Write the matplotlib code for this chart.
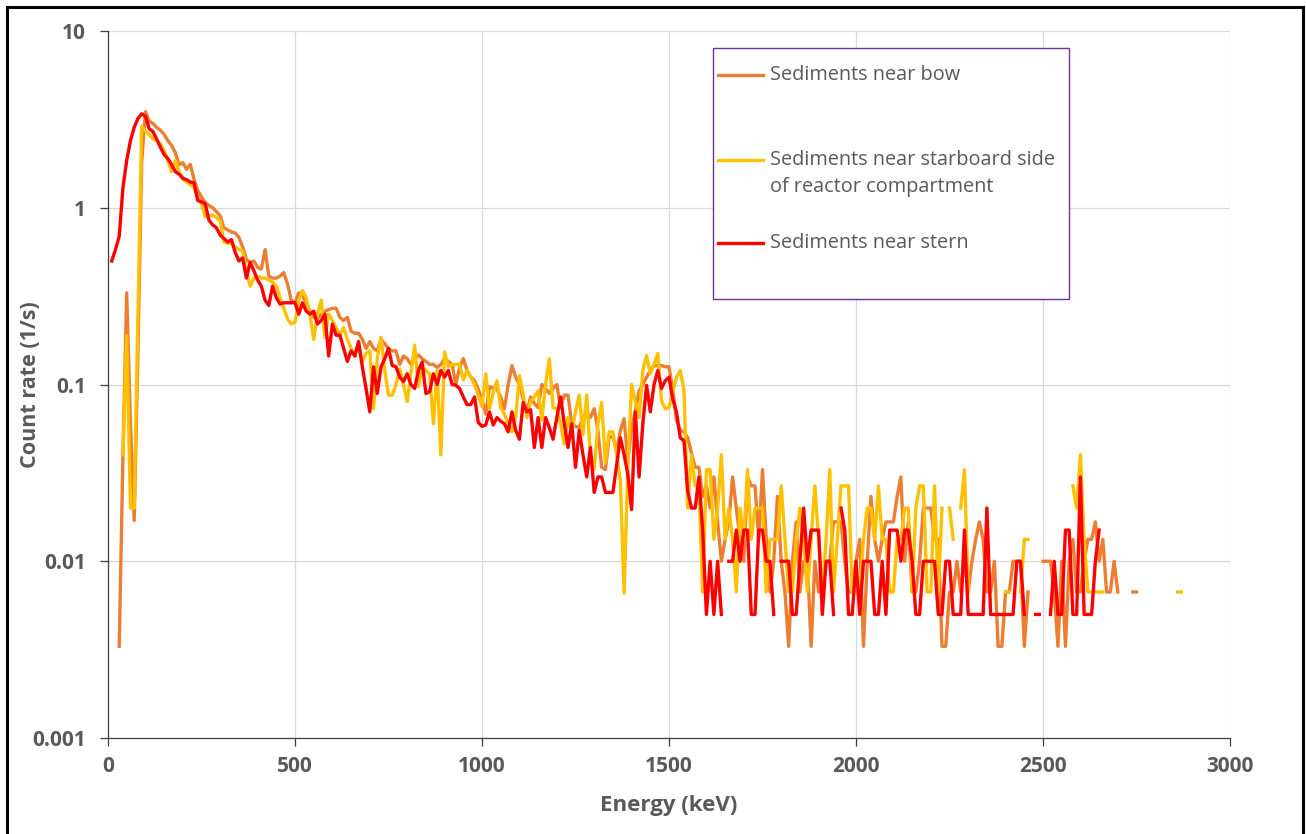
import numpy as np
import matplotlib.pyplot as plt
from matplotlib.patches import Rectangle

plt.rcParams['font.family'] = ['Open Sans', 'DejaVu Sans']

nan = np.nan
bin_width = 10  # keV, first bin at 10 keV

# Count rates (1/s) per 10 keV bin, one row per 100 keV; nan = no counts
stern = [
    0.50, 0.58, 0.69, 1.30, 1.85, 2.4, 2.85, 3.2, 3.4, 3.3,
    2.8, 2.7, 2.45, 2.2, 2.0, 1.9, 1.75, 1.6, 1.55, 1.47,
    1.44, 1.40, 1.38, 1.10, 1.08, 1.05, 0.85, 0.80, 0.77, 0.70,
    0.67, 0.64, 0.66, 0.56, 0.50, 0.52, 0.40, 0.49, 0.44, 0.39,
    0.36, 0.30, 0.28, 0.36, 0.31, 0.285, 0.29, 0.29, 0.29, 0.29,
    0.25, 0.29, 0.26, 0.25, 0.26, 0.22, 0.23, 0.25, 0.145, 0.22,
    0.19, 0.19, 0.16, 0.135, 0.155, 0.145, 0.175, 0.126, 0.095, 0.070,
    0.126, 0.089, 0.126, 0.14, 0.16, 0.128, 0.126, 0.11, 0.104, 0.115,
    0.10, 0.095, 0.12, 0.134, 0.089, 0.091, 0.115, 0.10, 0.12, 0.11,
    0.12, 0.10, 0.099, 0.095, 0.085, 0.077, 0.077, 0.085, 0.061, 0.058,
    0.059, 0.070, 0.059, 0.065, 0.062, 0.060, 0.054, 0.070, 0.055, 0.049,
    0.079, 0.070, 0.072, 0.044, 0.065, 0.044, 0.065, 0.057, 0.049, 0.065,
    0.085, 0.060, 0.044, 0.060, 0.034, 0.055, 0.040, 0.030, 0.044, 0.0245,
    0.030, 0.030, 0.0245, 0.0245, 0.0245, 0.035, 0.050, 0.040, 0.031, 0.0196,
    0.070, 0.030, 0.060, 0.099, 0.070, 0.10, 0.12, 0.095, 0.105, 0.11,
    0.083, 0.070, 0.050, 0.048, 0.025, 0.02, 0.02, 0.03, 0.015, 0.005,
    0.01, 0.005, 0.01, 0.005, nan, 0.01, 0.01, 0.015, 0.01, 0.015,
    0.015, 0.005, 0.005, 0.015, 0.015, 0.01, 0.01, 0.005, nan, 0.01,
    0.01, 0.01, 0.005, 0.005, 0.01, 0.02, 0.01, 0.015, 0.015, 0.015,
    0.005, 0.01, 0.01, 0.005, nan, 0.02, 0.015, 0.005, 0.005, 0.01,
    0.005, 0.01, 0.01, 0.01, 0.005, 0.005, 0.01, 0.005, 0.015, 0.015,
    0.015, 0.01, 0.015, 0.015, 0.01, 0.005, 0.005, 0.01, 0.01, 0.01,
    0.01, 0.005, 0.005, 0.01, 0.01, 0.005, 0.005, 0.005, 0.015, 0.005,
    0.005, 0.005, 0.005, 0.005, 0.02, 0.005, 0.005, 0.005, 0.005, 0.005,
    0.005, 0.005, 0.01, 0.01, 0.005, nan, nan, 0.005, 0.005, nan,
    nan, 0.005, 0.01, 0.005, 0.005, 0.015, 0.015, 0.005, 0.005, 0.03,
    0.005, 0.005, 0.005, 0.01, 0.015,
]

bow = [
    nan, nan, 0.0033, 0.04, 0.33, 0.06, 0.017, 0.15, 1.8, 3.5,
    3.1, 3.0, 2.85, 2.75, 2.6, 2.4, 2.25, 2.05, 1.75, 1.8,
    1.65, 1.76, 1.45, 1.25, 1.15, 1.07, 1.03, 1.0, 0.95, 0.90,
    0.77, 0.75, 0.73, 0.72, 0.68, 0.60, 0.51, 0.49, 0.50, 0.46,
    0.45, 0.58, 0.41, 0.40, 0.40, 0.41, 0.43, 0.37, 0.30, 0.29,
    0.33, 0.32, 0.29, 0.26, 0.24, 0.235, 0.25, 0.26, 0.265, 0.27,
    0.27, 0.24, 0.23, 0.24, 0.20, 0.195, 0.195, 0.18, 0.16, 0.175,
    0.16, 0.155, 0.18, 0.17, 0.16, 0.155, 0.155, 0.13, 0.145, 0.14,
    0.13, 0.14, 0.147, 0.14, 0.135, 0.13, 0.13, 0.125, 0.13, 0.14,
    0.135, 0.13, 0.10, 0.125, 0.14, 0.12, 0.11, 0.105, 0.094, 0.082,
    0.068, 0.097, 0.095, 0.094, 0.085, 0.073, 0.10, 0.128, 0.11, 0.10,
    0.083, 0.070, 0.085, 0.078, 0.074, 0.10, 0.095, 0.089, 0.095, 0.10,
    0.074, 0.087, 0.087, 0.060, 0.058, 0.057, 0.065, 0.07, 0.065, 0.073,
    0.055, 0.034, 0.033, 0.05, 0.051, 0.042, 0.055, 0.064, 0.037, 0.057,
    0.071, 0.092, 0.10, 0.11, 0.12, 0.128, 0.128, 0.128, 0.126, 0.126,
    0.094, 0.063, 0.055, 0.054, 0.05, 0.041, 0.034, 0.034, 0.0233, 0.0267,
    0.02, 0.03, 0.0167, 0.01, 0.0133, 0.0167, 0.03, 0.02, 0.0133, 0.01,
    0.03, 0.0267, 0.0267, 0.0133, 0.033, 0.0133, 0.0067, 0.01, 0.0233, 0.01,
    0.0067, 0.0033, 0.01, 0.0167, 0.0067, 0.01, 0.01, 0.0033, 0.01, 0.0067,
    0.0067, 0.01, 0.01, 0.0167, 0.0167, 0.0167, 0.01, 0.0067, 0.0067, 0.01,
    0.0133, 0.0033, 0.01, 0.0233, 0.0133, 0.01, 0.0133, 0.0167, 0.0167, 0.0167,
    0.0233, 0.03, 0.01, 0.0167, 0.0067, 0.0067, 0.01, 0.02, 0.02, 0.02,
    0.0133, 0.0133, 0.0033, 0.0033, 0.0067, 0.0067, 0.01, 0.0067, 0.01, 0.0067,
    0.01, 0.0133, 0.0167, 0.0133, 0.0067, 0.0067, 0.01, 0.0033, 0.0033, 0.0067,
    0.0067, 0.01, 0.01, 0.01, 0.0033, 0.0067, nan, nan, nan, 0.01,
    0.01, 0.01, 0.0067, 0.0033, 0.01, 0.0033, 0.01, 0.0133, 0.0067, 0.0067,
    0.01, 0.0133, 0.0133, 0.0167, 0.01, 0.0133, 0.0067, 0.0067, 0.01, 0.0067,
    nan, nan, nan, 0.0067, 0.0067,
]

starboard = [
    nan, nan, nan, 0.04, 0.19, 0.02, 0.02, 0.25, 2.9, 2.7,
    2.6, 2.45, 2.4, 2.3, 2.1, 1.85, 1.6, 1.85, 1.6, 1.45,
    1.4, 1.35, 1.3, 1.15, 1.05, 0.89, 0.9, 0.91, 0.88, 0.85,
    0.64, 0.63, 0.63, 0.60, 0.58, 0.57, 0.45, 0.36, 0.40, 0.41,
    0.40, 0.40, 0.39, 0.38, 0.36, 0.31, 0.27, 0.235, 0.22, 0.225,
    0.30, 0.34, 0.31, 0.25, 0.18, 0.25, 0.30, 0.185, 0.25, 0.23,
    0.21, 0.19, 0.21, 0.18, 0.16, 0.145, 0.17, 0.134, 0.15, 0.155,
    0.073, 0.14, 0.185, 0.12, 0.087, 0.087, 0.10, 0.123, 0.10, 0.08,
    0.115, 0.167, 0.097, 0.126, 0.12, 0.115, 0.06, 0.12, 0.04, 0.153,
    0.126, 0.13, 0.13, 0.13, 0.106, 0.12, 0.11, 0.10, 0.087, 0.075,
    0.115, 0.073, 0.09, 0.105, 0.074, 0.068, 0.06, 0.054, 0.065, 0.112,
    0.089, 0.065, 0.08, 0.085, 0.092, 0.063, 0.10, 0.14, 0.074, 0.073,
    0.06, 0.046, 0.065, 0.054, 0.07, 0.087, 0.052, 0.087, 0.039, 0.033,
    0.06, 0.079, 0.036, 0.054, 0.054, 0.04, 0.0285, 0.0066, 0.034, 0.10,
    0.08, 0.065, 0.12, 0.146, 0.115, 0.13, 0.15, 0.081, 0.073, 0.074,
    0.09, 0.11, 0.12, 0.093, 0.02, 0.04, 0.0267, 0.0267, 0.0067, 0.033,
    0.033, 0.0133, 0.02, 0.04, 0.0133, 0.02, 0.0133, 0.0067, 0.02, 0.0133,
    0.033, 0.0133, 0.02, 0.02, 0.02, 0.0067, 0.0133, 0.0133, 0.0133, 0.0267,
    0.0133, 0.0067, 0.0067, 0.0133, 0.02, 0.0133, 0.0067, 0.0133, 0.0267, 0.0133,
    0.0067, 0.0133, 0.033, 0.0067, 0.0133, 0.0267, 0.0267, 0.0267, 0.0067, 0.0067,
    0.0067, 0.0133, 0.02, 0.02, 0.0133, 0.0267, 0.0133, 0.0133, 0.0067, 0.0067,
    0.0133, 0.0133, 0.02, 0.02, 0.0067, 0.02, 0.0267, 0.0267, 0.0067, 0.0067,
    0.0267, 0.0067, 0.02, nan, 0.02, 0.0133, nan, 0.02, 0.033, 0.0067,
    nan, nan, nan, nan, nan, nan, nan, nan, nan, 0.0067,
    0.0067, nan, nan, 0.0067, 0.0133, 0.0133, nan, nan, nan, nan,
    nan, nan, nan, nan, nan, nan, nan, 0.0267, 0.02, 0.04,
    0.0133, 0.0067, 0.0067, 0.0067, 0.0067, 0.0067, nan, nan, nan, nan,
    nan, nan, nan, nan, nan, nan, nan, nan, nan, nan,
    nan, nan, nan, nan, nan, 0.0067, 0.0067,
]

series = [
    ('Sediments near bow', bow, '#ED7D31'),
    ('Sediments near starboard side\nof reactor compartment', starboard, '#FFC000'),
    ('Sediments near stern', stern, '#FF0000'),
]

y_ticks = [0.001, 0.01, 0.1, 1, 10]
y_tick_labels = ['0.001', '0.01', '0.1', '1', '10']
x_ticks = [0, 500, 1000, 1500, 2000, 2500, 3000]

grey = '#595959'

fig = plt.figure(figsize=(13.06, 8.34), dpi=100)
ax = fig.add_axes([108 / 1306, 1 - 738 / 834, 1122 / 1306, 707 / 834])

for label, values, color in series:
    energy = bin_width * np.arange(1, len(values) + 1)
    ax.plot(energy, values, color=color, lw=2.4, label=label)

ax.set_yscale('log')
ax.set_ylim(0.001, 10)
ax.set_xlim(0, 3000)
ax.set_yticks(y_ticks)
ax.set_yticklabels(y_tick_labels)
ax.yaxis.set_minor_locator(plt.NullLocator())
ax.set_xticks(x_ticks)

ax.grid(True, color='#D9D9D9', lw=0.9)
ax.set_axisbelow(True)
for side in ['top', 'right']:
    ax.spines[side].set_visible(False)
for side in ['left', 'bottom']:
    ax.spines[side].set_color('#404040')
    ax.spines[side].set_linewidth(0.9)

ax.tick_params(axis='both', colors='#404040', labelcolor=grey, length=6, width=0.9, labelsize=15)
ax.tick_params(axis='y', pad=10)
ax.tick_params(axis='x', pad=7)
for t in ax.get_xticklabels() + ax.get_yticklabels():
    t.set_fontweight('bold')

ax.set_xlabel('Energy (keV)', fontsize=16, fontweight='bold', color=grey)
ax.set_ylabel('Count rate (1/s)', fontsize=15.5, fontweight='bold', color=grey)
ax.xaxis.label.set_va('center')
ax.yaxis.label.set_va('center')
ax.xaxis.set_label_coords(0.5, -0.095)
ax.yaxis.set_label_coords(-0.069, 0.5)

# legend drawn by hand (Excel style: handle beside the first text line)
ax.add_patch(Rectangle((0.539, 0.621), 0.3175, 0.355, transform=ax.transAxes,
                       facecolor='white', edgecolor='#7030A0', lw=1, zorder=5))
legend_rows = [0.9378, 0.8175, 0.7001]
for (label, values, color), y in zip(series, legend_rows):
    ax.plot([0.5437, 0.5838], [y, y], transform=ax.transAxes, color=color, lw=2.4, zorder=6)
    for i, line in enumerate(label.split('\n')):
        ax.text(0.590, y - i * 0.0385, line, transform=ax.transAxes, va='center', ha='left',
                fontsize=14.3, color=grey, zorder=6)

fig.add_artist(Rectangle((7 / 1306, -0.02), 1296 / 1306, 827 / 834 + 0.02,
                         transform=fig.transFigure, fill=False, ec='black', lw=2.2))

fig.savefig('out.png', dpi=100)
